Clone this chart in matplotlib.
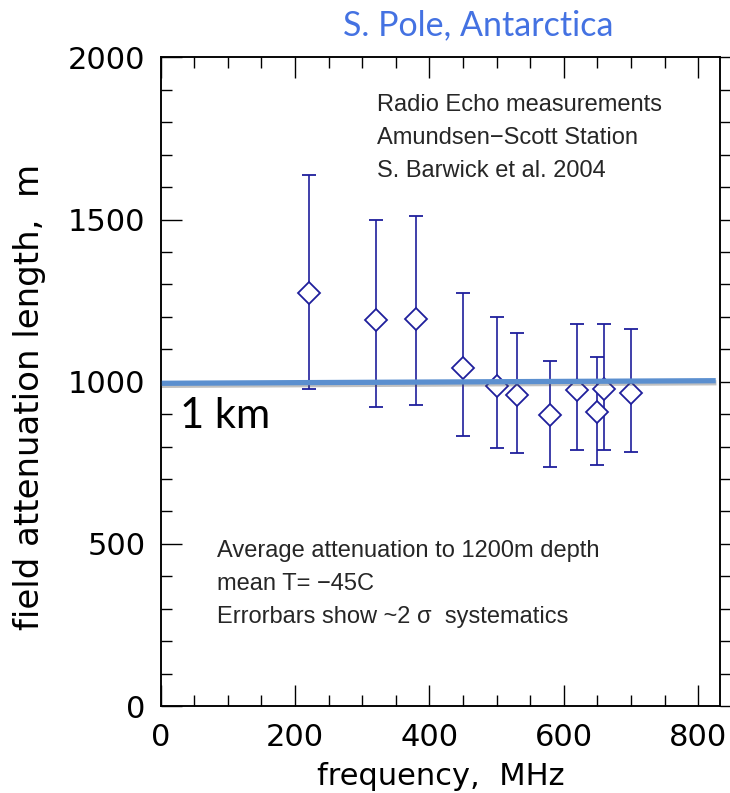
import matplotlib

matplotlib.use("Agg")
import matplotlib.pyplot as plt
import matplotlib.patheffects as pe
from matplotlib.ticker import MultipleLocator

# values
freq_mhz = [220, 320, 380, 450, 500, 530, 580, 620, 650, 660, 700]
atten_m = [1272, 1190, 1193, 1041, 986, 959, 898, 974, 907, 976, 966]
err_top = [1638, 1500, 1510, 1272, 1198, 1151, 1064, 1178, 1075, 1177, 1161]
err_bottom = [976, 921, 928, 832, 794, 779, 736, 789, 743, 789, 784]

km_line_x = [0, 826]
km_line_y = [995, 1003]

note_top = ["Radio Echo measurements", "Amundsen\u2212Scott Station", "S. Barwick et al. 2004"]
note_bottom = ["Average attenuation to 1200m depth", "mean T= \u221245C", "Errorbars show ~2 \u03c3  systematics"]

NAVY = "#1f1f9c"
LINE_BLUE = "#5b8fcf"
TITLE_BLUE = "#4472e2"
TEXT_GREY = "#262626"


def main() -> None:
    fig = plt.figure(figsize=(7.3, 7.93), dpi=100)
    ax = fig.add_axes([0.2201, 0.1097, 0.7668, 0.8180])

    yerr = [
        [a - lo for a, lo in zip(atten_m, err_bottom)],
        [hi - a for a, hi in zip(atten_m, err_top)],
    ]
    ax.errorbar(
        freq_mhz,
        atten_m,
        yerr=yerr,
        fmt="D",
        ms=11,
        mfc="white",
        mec=NAVY,
        mew=1.3,
        color=NAVY,
        ecolor=NAVY,
        elinewidth=1.2,
        capsize=5,
        capthick=1.2,
        zorder=3,
    )

    ax.plot(
        km_line_x,
        km_line_y,
        color=LINE_BLUE,
        lw=3.8,
        solid_capstyle="butt",
        zorder=5,
        clip_on=False,
        path_effects=[pe.SimpleLineShadow(offset=(0.5, -1.5), shadow_color="0.3", alpha=0.35), pe.Normal()],
    )

    ax.set_xlim(0, 833)
    ax.set_ylim(0, 2000)
    ax.xaxis.set_major_locator(MultipleLocator(200))
    ax.xaxis.set_minor_locator(MultipleLocator(50))
    ax.yaxis.set_major_locator(MultipleLocator(500))
    ax.yaxis.set_minor_locator(MultipleLocator(100))

    for side in ax.spines.values():
        side.set_linewidth(1.1)
    ax.tick_params(axis="both", which="both", direction="in", width=1.0, top=True, right=False)
    ax.tick_params(axis="both", which="major", length=15, labelsize=22)
    ax.tick_params(axis="both", which="minor", length=8)
    ax.tick_params(axis="x", which="major", pad=12)
    ax.tick_params(axis="y", which="major", pad=11)
    for lab in ax.get_xticklabels() + ax.get_yticklabels():
        lab.set_family("DejaVu Sans")

    # right-hand ticks point outwards in the original
    ax_r = ax.twinx()
    ax_r.set_ylim(ax.get_ylim())
    ax_r.yaxis.set_major_locator(MultipleLocator(500))
    ax_r.yaxis.set_minor_locator(MultipleLocator(100))
    ax_r.tick_params(axis="y", which="both", direction="out", width=1.0, labelright=False)
    ax_r.tick_params(axis="y", which="major", length=15)
    ax_r.tick_params(axis="y", which="minor", length=8)
    for side in ax_r.spines.values():
        side.set_linewidth(1.1)

    ax.set_xlabel("frequency,  MHz", fontsize=22, family="DejaVu Sans", va="center")
    ax.xaxis.set_label_coords(0.5, -0.109)
    ax.set_ylabel("field attenuation length,  m", fontsize=24.5, family="DejaVu Sans", va="center")
    ax.yaxis.set_label_coords(-0.2335, 0.476)

    for i, line in enumerate(note_top):
        ax.text(0.386, 0.9265 - i * 0.0505, line, transform=ax.transAxes, fontsize=17,
                family="Liberation Sans", va="center", ha="left", color=TEXT_GREY)
    for i, line in enumerate(note_bottom):
        ax.text(0.1005, 0.239 - i * 0.051, line, transform=ax.transAxes, fontsize=17,
                family="Liberation Sans", va="center", ha="left", color=TEXT_GREY)

    fig.text(0.2466, 0.4754, "1 km", fontsize=30, family="Lato", va="center", ha="left", color="black")
    fig.text(0.6548, 0.9685, "S. Pole, Antarctica", fontsize=24.5, family="Lato", va="center", ha="center",
             color=TITLE_BLUE)

    fig.savefig("out.png", dpi=100)
    plt.close(fig)


if __name__ == "__main__":
    main()
